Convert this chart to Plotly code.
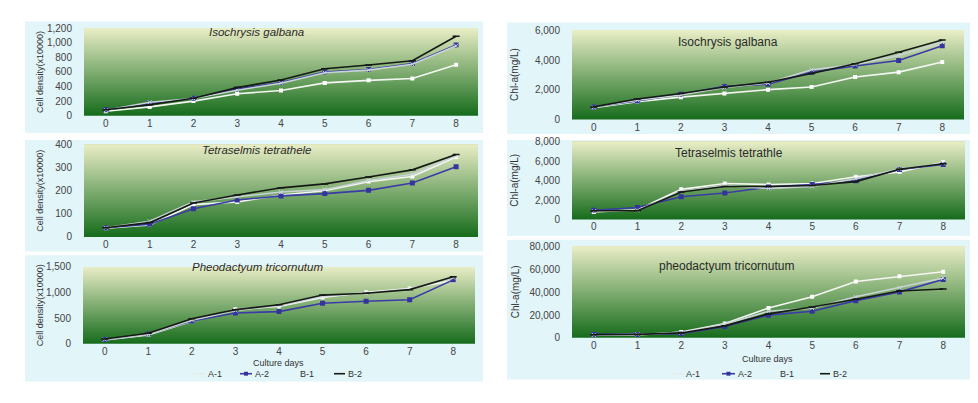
import plotly.graph_objects as go

W, H = 978, 403

days = [0, 1, 2, 3, 4, 5, 6, 7, 8]
day_labels = ["0", "1", "2", "3", "4", "5", "6", "7", "8"]
series_names = ["A-1", "A-2", "B-1", "B-2"]

# Cell density (x10000)
iso_cell_A1 = [60, 120, 200, 300, 345, 450, 485, 510, 700]
iso_cell_A2 = [80, 170, 240, 365, 455, 600, 635, 715, 970]
iso_cell_B1 = [75, 185, 235, 350, 445, 590, 625, 705, 960]
iso_cell_B2 = [80, 150, 240, 385, 490, 645, 695, 755, 1090]

tet_cell_A1 = [38, 52, 140, 152, 182, 200, 240, 262, 347]
tet_cell_A2 = [40, 55, 122, 160, 178, 188, 202, 234, 305]
tet_cell_B1 = [40, 68, 152, 175, 195, 205, 245, 272, 352]
tet_cell_B2 = [40, 62, 147, 182, 213, 230, 260, 291, 358]

phe_cell_A1 = [70, 170, 440, 675, 728, 905, 1005, 1080, 1235]
phe_cell_A2 = [80, 190, 443, 600, 627, 790, 830, 860, 1248]
phe_cell_B1 = [80, 180, 460, 650, 740, 930, 990, 1070, 1290]
phe_cell_B2 = [90, 203, 487, 665, 760, 950, 987, 1057, 1310]

# Chl-a (mg/L)
iso_chl_A1 = [800, 1200, 1505, 1745, 2007, 2182, 2858, 3185, 3862]
iso_chl_A2 = [850, 1244, 1702, 2225, 2378, 3185, 3600, 3971, 4953]
iso_chl_B1 = [820, 1300, 1650, 2150, 2450, 3350, 3700, 4300, 5200]
iso_chl_B2 = [850, 1375, 1745, 2182, 2509, 3098, 3753, 4516, 5345]

tet_chl_A1 = [767, 1000, 3100, 3700, 3600, 3700, 4400, 4900, 5900]
tet_chl_A2 = [950, 1233, 2333, 2733, 3333, 3600, 4000, 5150, 5667]
tet_chl_B1 = [850, 950, 2900, 3500, 3200, 3400, 4200, 5200, 5800]
tet_chl_B2 = [900, 900, 2833, 3400, 3400, 3500, 3900, 5167, 5733]

phe_chl_A1 = [2500, 2500, 5100, 12500, 26100, 36000, 49400, 53900, 57900]
phe_chl_A2 = [3000, 3000, 3500, 10000, 19900, 23300, 32600, 40300, 51100]
phe_chl_B1 = [2500, 3000, 4500, 12000, 23300, 26000, 36000, 44000, 52500]
phe_chl_B2 = [2800, 3000, 4300, 10500, 21000, 27000, 33800, 41100, 42800]

panels = [
    ([iso_cell_A1, iso_cell_A2, iso_cell_B1, iso_cell_B2], "Isochrysis galbana", True, "Cell density(x10000)", 1200, 200, "L"),
    ([tet_cell_A1, tet_cell_A2, tet_cell_B1, tet_cell_B2], "Tetraselmis tetrathele", True, "Cell density(x10000)", 400, 100, "L"),
    ([phe_cell_A1, phe_cell_A2, phe_cell_B1, phe_cell_B2], "Pheodactyum tricornutum", True, "Cell density(x10000)", 1500, 500, "L"),
    ([iso_chl_A1, iso_chl_A2, iso_chl_B1, iso_chl_B2], "Isochrysis galbana", False, "Chl-a(mg/L)", 6000, 2000, "R"),
    ([tet_chl_A1, tet_chl_A2, tet_chl_B1, tet_chl_B2], "Tetraselmis tetrathle", False, "Chl-a(mg/L)", 8000, 2000, "R"),
    ([phe_chl_A1, phe_chl_A2, phe_chl_B1, phe_chl_B2], "pheodactyum tricornutum", False, "Chl-a(mg/L)", 80000, 20000, "R"),
]

plot_px = [
    (84, 478, 23, 113),
    (84, 478, 143, 238),
    (83, 475, 269, 348),
    (572, 964, 25, 117),
    (572, 965, 140, 220),
    (572, 965, 248, 342),
]
box_px = [
    (25, 483, 16, 131),
    (25, 483, 138, 253),
    (25, 483, 257, 387),
    (507, 970, 17, 132),
    (507, 970, 138, 237),
    (507, 970, 241, 385),
]
title_px = [(256, 27), (257, 148), (257, 269), (728, 37), (729, 151), (726, 268)]

def px_x(x):
    return x / W

def px_y(y):
    return 1 - y / H

colors = {"A-1": "#f4f6f2", "A-2": "#3b3ba6", "B-1": "#c9d3d6", "B-2": "#151a15"}
styles = {
    "A-1": dict(line=dict(color=colors["A-1"], width=1.6), marker=dict(symbol="square", size=4, color="#ffffff")),
    "A-2": dict(line=dict(color=colors["A-2"], width=1.6), marker=dict(symbol="square", size=5, color="#34349c")),
    "B-1": dict(line=dict(color=colors["B-1"], width=1.6), marker=dict(symbol="x-thin", size=4, color=colors["B-1"], line=dict(color=colors["B-1"], width=1))),
    "B-2": dict(line=dict(color=colors["B-2"], width=1.6), marker=dict(symbol="line-ew", size=5, color=colors["B-2"], line=dict(color=colors["B-2"], width=1.5))),
}

FONT = "Liberation Sans, Arial"
fig = go.Figure()
shapes = []
annotations = []

top_c = (233, 237, 198)
bot_c = (22, 108, 28)
NB = 60

for i, (series, title, italic, ytitle, ymax, dtick, side) in enumerate(panels):
    n = i + 1
    xa = "x" if n == 1 else f"x{n}"
    ya = "y" if n == 1 else f"y{n}"
    x0, x1, yt, yb = plot_px[i]
    bx0, bx1, byt, byb = box_px[i]
    shapes.append(dict(type="rect", xref="paper", yref="paper", x0=px_x(bx0), x1=px_x(bx1),
                       y0=px_y(byb), y1=px_y(byt), fillcolor="#e2f5f9", line=dict(width=0), layer="below"))
    for k in range(NB):
        t = (k + 0.5) / NB
        c = tuple(int(round(bot_c[j] + (top_c[j] - bot_c[j]) * t)) for j in range(3))
        shapes.append(dict(type="rect", xref=f"{xa} domain", yref=f"{ya} domain",
                           x0=0, x1=1, y0=k / NB, y1=1,
                           fillcolor=f"rgb{c}", line=dict(width=0), layer="below"))
    for name, vals in zip(series_names, series):
        st = styles[name]
        fig.add_trace(go.Scatter(
            x=days, y=vals, name=name, mode="lines+markers",
            line=st["line"], marker=st["marker"], xaxis=xa, yaxis=ya,
            showlegend=False,
        ))
    axkey_x = "xaxis" if n == 1 else f"xaxis{n}"
    axkey_y = "yaxis" if n == 1 else f"yaxis{n}"
    fig.layout[axkey_x] = dict(
        domain=[px_x(x0), px_x(x1)], anchor=ya, range=[-0.5, 8.5],
        tickvals=days, ticktext=day_labels, showgrid=False, zeroline=False,
        ticks="", tickfont=dict(size=10, color="#444444", family=FONT),
        showline=False, fixedrange=True,
    )
    fig.layout[axkey_y] = dict(
        domain=[px_y(yb), px_y(yt)], anchor=xa, range=[0, ymax], dtick=dtick,
        tickformat=",d", showgrid=False, zeroline=False, showline=False,
        ticks="outside", ticklen=9, tickcolor="rgba(0,0,0,0)",
        tickfont=dict(size=10, color="#444444", family=FONT),
        fixedrange=True,
    )
    tx, ty = title_px[i]
    annotations.append(dict(
        text=f"<i>{title}</i>" if italic else title, x=px_x(tx), y=px_y(ty),
        xref="paper", yref="paper", showarrow=False, xanchor="center", yanchor="middle",
        font=dict(size=11.5 if italic else 12, color="#2a2a2a", family=FONT),
    ))
    yx = 40 if side == "L" else 515
    annotations.append(dict(
        text=ytitle, x=px_x(yx), y=px_y((yt + yb) / 2), xref="paper", yref="paper",
        showarrow=False, textangle=-90, xanchor="center", yanchor="middle",
        font=dict(size=9 if side == "L" else 10, color="#333333", family=FONT),
    ))

annotations.append(dict(text="Culture days", x=px_x(278), y=px_y(368), xref="paper", yref="paper",
                        showarrow=False, xanchor="center", yanchor="middle",
                        font=dict(size=9, color="#333333", family=FONT)))
annotations.append(dict(text="Culture days", x=px_x(767), y=px_y(364), xref="paper", yref="paper",
                        showarrow=False, xanchor="center", yanchor="middle",
                        font=dict(size=9, color="#333333", family=FONT)))

legend_keys = {
    "L": (379, [(192, 206), (240, 253), (286, 298), (334, 346)]),
    "R": (379, [(672, 684), (722, 736), (766, 778), (820, 831)]),
}
key_colors = {"A-1": "#e6ecec", "A-2": "#3b3ba6", "B-1": "rgba(0,0,0,0)", "B-2": "#151a15"}
for side, (ly, items) in legend_keys.items():
    for name, (lx, tx) in zip(series_names, items):
        shapes.append(dict(type="line", xref="paper", yref="paper",
                           x0=px_x(lx), x1=px_x(tx - 1), y0=px_y(ly), y1=px_y(ly),
                           line=dict(color=key_colors[name], width=1.6)))
        if name == "A-2":
            mx = (lx + tx - 1) / 2
            shapes.append(dict(type="rect", xref="paper", yref="paper",
                               x0=px_x(mx - 2), x1=px_x(mx + 2), y0=px_y(ly + 2), y1=px_y(ly - 2),
                               fillcolor="#34349c", line=dict(width=0)))
        annotations.append(dict(text=name, x=px_x(tx), y=px_y(ly), xref="paper", yref="paper",
                                showarrow=False, xanchor="left", yanchor="middle",
                                font=dict(size=9, color="#333333", family=FONT)))

fig.update_layout(
    width=W, height=H,
    margin=dict(l=0, r=0, t=0, b=0),
    paper_bgcolor="white", plot_bgcolor="rgba(0,0,0,0)",
    shapes=shapes, annotations=annotations,
    showlegend=False,
)

fig.write_html("out.html", config={"displayModeBar": False},
               post_script="document.body.style.margin='0';document.body.style.padding='0';")
